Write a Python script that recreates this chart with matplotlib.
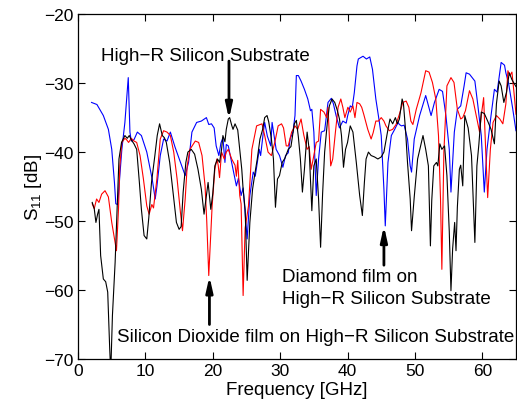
import numpy as np
import matplotlib
matplotlib.use('Agg')
import matplotlib.pyplot as plt

plt.rcParams['font.family'] = ['Liberation Sans', 'DejaVu Sans']
plt.rcParams['mathtext.default'] = 'regular'

# High-R silicon substrate (black)
si_f = [2.1, 2.4, 2.65, 2.9, 3.1, 3.35, 3.75, 4.1, 4.4, 4.7, 4.85, 5.1, 5.5, 5.75, 6.07, 6.45,
        6.95, 7.3, 7.6, 7.95, 8.3, 8.7, 9.1, 9.4, 9.8, 10.2, 10.5, 10.9, 11.4, 11.75, 12.1, 12.5,
        12.8, 13.1, 13.6, 14.1, 14.6, 15.0, 15.3, 15.6, 16.0, 16.3, 16.8, 17.3, 17.8, 18.3, 18.7,
        18.9, 19.3, 19.7, 20.0, 20.3, 20.7, 21.0, 21.3, 21.5, 21.8, 22.0, 22.3, 22.5, 22.8, 23.0,
        23.3, 23.7, 24.0, 24.3, 24.5, 24.8, 25.1, 25.5, 25.9, 26.2, 26.6, 27.0, 27.4, 27.7, 28.05,
        28.3, 28.7, 29.0, 29.3, 29.6, 29.9, 30.3, 30.7, 31.2, 31.6, 32.1, 32.4, 32.7, 33.0, 33.3,
        33.6, 34.0, 34.3, 34.7, 35.0, 35.35, 35.7, 36.0, 36.3, 36.6, 37.0, 37.3, 37.7, 38.1, 38.5,
        38.8, 39.1, 39.4, 39.7, 40.0, 40.4, 40.8, 41.3, 41.8, 42.2, 42.5, 42.75, 43.1, 43.5, 44.0,
        44.5, 45.0, 45.4, 46.0, 46.3, 46.7, 47.1, 47.4, 47.7, 48.1, 48.3, 48.6, 48.9, 49.3, 49.5,
        49.9, 50.4, 51.2, 51.6, 52.0, 52.3, 52.5, 52.8, 53.2, 53.4, 53.7, 54.0, 54.4, 54.75, 55.1,
        55.35, 55.6, 55.9, 56.1, 56.3, 56.6, 56.8, 57.1, 57.4, 57.9, 58.4, 58.9, 59.2, 59.5, 59.85,
        60.3, 60.8, 61.3, 61.8, 62.1, 62.5, 62.8, 63.2, 63.6, 64.0, 64.4, 64.7, 65.0]
si_s11 = [-47.3, -48.2, -50.2, -49.0, -48.3, -55.0, -58.4, -58.8, -60.3, -68.6, -72.0, -63.7, -56.0,
          -49.5, -41.0, -38.6, -37.6, -38.0, -37.6, -38.3, -38.8, -39.6, -44.4, -48.3, -52.1, -52.6,
          -49.5, -44.4, -40.5, -37.6, -35.9, -37.6, -37.9, -38.6, -41.5, -45.8, -50.2, -51.2, -50.8,
          -45.8, -41.5, -40.0, -39.6, -40.3, -42.5, -45.4, -49.0, -47.5, -44.4, -48.3, -46.0, -42.0,
          -41.0, -41.5, -39.6, -37.6, -38.5, -36.7, -35.2, -35.0, -36.1, -36.7, -35.9, -36.8, -39.6,
          -42.5, -45.4, -48.3, -58.6, -50.2, -45.4, -43.4, -41.0, -38.1, -36.7, -35.0, -34.7, -35.6,
          -38.1, -41.0, -48.0, -43.9, -43.4, -41.5, -40.9, -39.6, -39.2, -35.9, -35.4, -37.8, -41.0,
          -45.8, -42.5, -37.1, -39.6, -48.5, -42.0, -41.0, -46.8, -53.8, -46.0, -40.0, -35.7, -33.3,
          -32.3, -32.8, -34.0, -35.2, -37.6, -42.2, -39.6, -38.6, -36.2, -37.1, -41.5, -46.3, -49.2,
          -44.4, -41.0, -40.0, -40.5, -40.7, -41.0, -40.7, -40.0, -36.7, -35.2, -35.9, -35.0, -35.9,
          -35.2, -32.3, -33.0, -36.7, -41.5, -46.8, -51.4, -46.5, -41.0, -37.6, -39.6, -42.0, -53.6,
          -47.0, -42.0, -41.5, -42.0, -38.8, -39.6, -39.1, -43.4, -51.5, -60.1, -54.0, -50.2, -54.3,
          -48.0, -42.5, -41.9, -44.9, -34.7, -36.5, -40.5, -53.1, -42.0, -38.8, -34.2, -34.4, -35.5,
          -36.7, -38.8, -33.0, -29.7, -30.4, -32.8, -31.3, -28.5, -29.5, -30.0, -30.5]

# Silicon dioxide film (red)
ox_f = [2.1, 2.4, 2.75, 3.1, 3.5, 4.0, 4.5, 5.0, 5.5, 5.7, 6.0, 6.2, 6.5, 6.95, 7.2, 7.5, 7.9,
        8.3, 8.7, 9.2, 9.7, 10.2, 10.55, 10.95, 11.2, 11.7, 12.2, 12.7, 13.2, 13.7, 14.2, 14.7,
        15.2, 15.5, 15.9, 16.2, 16.6, 17.4, 17.9, 18.4, 18.85, 19.1, 19.4, 19.9, 20.3, 20.6, 20.8,
        21.0, 21.3, 21.7, 22.0, 22.3, 22.8, 23.3, 23.5, 23.7, 24.0, 24.2, 24.5, 24.8, 25.3, 25.8,
        26.5, 27.3, 27.7, 28.2, 28.7, 29.2, 29.7, 30.2, 30.5, 30.9, 31.2, 31.7, 32.2, 32.6, 33.1,
        33.5, 34.0, 34.3, 34.6, 34.9, 35.35, 35.7, 36.0, 36.5, 36.9, 37.1, 37.5, 37.8, 38.2, 38.6,
        39.0, 39.3, 39.6, 40.05, 40.4, 40.8, 41.1, 41.4, 41.8, 42.1, 42.4, 43.0, 43.5, 43.8, 44.2,
        44.6, 45.0, 45.4, 45.7, 46.2, 46.7, 47.2, 47.7, 48.2, 48.7, 49.1, 49.4, 49.7, 50.2, 50.9,
        51.6, 52.1, 52.6, 53.1, 53.5, 53.8, 54.0, 54.3, 54.75, 55.35, 55.8, 56.3, 56.8, 57.1, 57.5,
        58.1, 58.6, 59.1, 59.6, 59.85, 60.2, 60.5, 60.8, 61.2, 61.6, 62.1, 62.6, 63.05, 63.5, 63.8,
        64.1, 64.4, 64.7, 65.0]
ox_s11 = [-47.5, -48.2, -46.8, -47.3, -46.1, -45.6, -46.5, -50.2, -53.1, -54.3, -48.3, -42.0, -38.6,
          -38.0, -38.2, -38.6, -38.0, -38.4, -38.6, -40.5, -43.9, -47.8, -49.0, -47.6, -48.1, -43.9,
          -38.1, -36.9, -37.1, -37.6, -40.0, -43.9, -48.8, -51.4, -46.8, -42.0, -39.6, -38.4, -38.6,
          -40.5, -44.9, -50.0, -57.9, -47.8, -42.5, -41.0, -41.9, -43.7, -40.0, -41.0, -40.0, -39.6,
          -41.0, -41.9, -43.5, -41.2, -46.3, -47.5, -60.8, -51.0, -47.8, -39.6, -36.2, -35.9, -37.6,
          -40.0, -40.5, -38.6, -36.2, -35.9, -36.5, -39.1, -39.1, -37.1, -36.2, -36.7, -35.2, -37.5,
          -39.6, -39.2, -42.5, -41.0, -38.6, -38.4, -33.8, -34.2, -35.0, -33.5, -42.0, -41.0, -37.1,
          -33.5, -32.3, -33.5, -35.0, -33.5, -34.2, -33.3, -35.0, -32.8, -33.0, -33.5, -34.5, -36.7,
          -38.1, -37.2, -35.5, -35.5, -35.0, -35.5, -36.2, -36.9, -36.7, -36.0, -34.5, -32.8, -32.6,
          -33.5, -35.5, -36.0, -33.8, -31.4, -28.2, -28.4, -29.9, -32.3, -37.6, -46.8, -57.0, -40.0,
          -30.4, -29.2, -29.9, -33.8, -35.2, -35.0, -34.0, -31.1, -32.3, -34.7, -37.1, -34.7, -32.1,
          -39.6, -46.6, -39.6, -35.7, -34.7, -35.2, -35.9, -33.0, -28.2, -28.9, -28.4, -31.3, -34.5]

# Diamond film (blue)
dia_f = [2.0, 2.8, 3.75, 4.5, 5.0, 5.4, 5.6, 5.9, 6.2, 6.5, 6.95, 7.45, 7.7, 7.9, 8.3, 8.8, 9.4,
         10.2, 11.0, 11.45, 11.7, 12.2, 12.7, 13.2, 13.7, 14.4, 15.2, 15.9, 16.4, 16.9, 17.6, 18.3,
         19.05, 19.4, 19.8, 20.2, 20.5, 20.9, 21.2, 21.5, 21.8, 22.0, 22.3, 23.0, 23.5, 23.8, 24.2,
         24.5, 24.8, 25.1, 25.5, 26.0, 26.3, 26.9, 27.1, 27.5, 27.7, 28.1, 28.6, 28.8, 29.1, 29.4,
         29.9, 30.4, 30.8, 31.2, 31.5, 31.9, 32.2, 32.4, 32.7, 33.1, 33.6, 34.1, 34.5, 34.7, 35.0,
         35.35, 35.7, 36.1, 36.6, 37.1, 37.6, 37.9, 38.3, 38.8, 39.3, 39.8, 40.0, 40.4, 40.7, 41.0,
         41.4, 41.6, 42.3, 42.8, 43.3, 43.7, 44.2, 44.7, 45.0, 45.4, 45.6, 46.0, 46.5, 47.0, 47.5,
         47.7, 48.0, 48.4, 48.9, 49.3, 49.5, 49.9, 50.7, 51.6, 52.4, 52.9, 53.6, 54.1, 54.6, 55.1,
         55.35, 55.85, 56.3, 56.8, 57.3, 57.6, 58.1, 58.9, 59.35, 59.85, 60.3, 60.7, 61.3, 61.8,
         62.2, 62.8, 63.3, 63.5, 63.9, 64.5, 65.0]
dia_s11 = [-32.8, -33.1, -34.7, -36.7, -39.6, -44.4, -47.5, -47.6, -43.4, -39.6, -35.7, -29.2, -37.1,
           -38.4, -38.2, -37.1, -37.6, -40.0, -43.9, -46.8, -45.0, -40.5, -38.1, -38.4, -37.1, -39.3,
           -41.5, -43.4, -41.5, -37.1, -35.7, -35.5, -35.0, -36.0, -35.9, -36.5, -39.1, -40.5, -38.7,
           -37.9, -41.5, -38.9, -39.1, -42.5, -44.9, -43.8, -46.3, -45.2, -49.0, -52.6, -46.3, -42.9,
           -43.5, -39.6, -40.5, -37.1, -35.7, -37.7, -39.1, -35.7, -37.7, -39.6, -40.5, -42.2, -40.5,
           -40.1, -38.0, -37.1, -34.7, -28.9, -28.9, -29.7, -30.9, -32.3, -34.0, -33.8, -37.1, -46.3,
           -41.0, -37.1, -36.9, -32.8, -32.2, -33.0, -34.7, -36.5, -35.5, -35.8, -34.8, -33.3, -33.5,
           -31.4, -27.5, -26.5, -26.1, -26.5, -26.2, -28.0, -32.3, -35.5, -37.6, -45.4, -50.7, -41.5,
           -37.6, -36.7, -35.7, -36.0, -36.2, -36.1, -38.1, -42.0, -42.9, -38.1, -34.7, -31.8, -34.7,
           -32.8, -30.9, -31.2, -34.7, -39.6, -45.8, -37.1, -33.8, -33.3, -30.4, -28.5, -28.7, -29.7,
           -33.3, -37.6, -45.8, -39.6, -34.7, -30.9, -31.3, -27.0, -27.4, -28.5, -30.0, -33.6, -36.9]

fig = plt.figure(figsize=(5.17, 4.10), dpi=100)
ax = fig.add_axes([0.151, 0.122, 0.847, 0.841])

ax.plot(dia_f, dia_s11, color='#0000ff', lw=0.8)
ax.plot(ox_f, ox_s11, color='#ff0000', lw=0.8)
ax.plot(si_f, si_s11, color='k', lw=0.8)

ax.set_xlim(0, 65)
ax.set_ylim(-70, -20)
ax.set_xticks(np.arange(0, 61, 10))
ax.set_yticks(np.arange(-70, -19, 10))
ax.tick_params(direction='in', top=True, right=True, length=5, labelsize=12.5, pad=3)
for sp in ax.spines.values():
    sp.set_linewidth(0.9)
ax.set_xlabel('Frequency [GHz]', fontsize=13.5, labelpad=2)
ax.set_ylabel('S$_{11}$ [dB]', fontsize=13.5, labelpad=0)

fs = 13.5
arrow = dict(arrowstyle='-|>,head_width=0.2,head_length=0.9', lw=2, color='k', shrinkA=0, shrinkB=0)
ax.text(3.45, -26.0, 'High\u2212R Silicon Substrate', fontsize=fs, va='center', ha='left')
ax.annotate('', xy=(22.4, -35.2), xytext=(22.4, -26.8), arrowprops=arrow)
ax.text(30.3, -58.1, 'Diamond film on', fontsize=fs, va='center', ha='left')
ax.text(30.3, -61.3, 'High\u2212R Silicon Substrate', fontsize=fs, va='center', ha='left')
ax.annotate('', xy=(45.4, -50.7), xytext=(45.4, -56.4), arrowprops=arrow)
ax.text(5.8, -66.8, 'Silicon Dioxide film on High\u2212R Silicon Substrate', fontsize=fs,
        va='center', ha='left')
ax.annotate('', xy=(19.5, -58.0), xytext=(19.5, -65.0), arrowprops=arrow)

fig.savefig('out.png', dpi=100)
